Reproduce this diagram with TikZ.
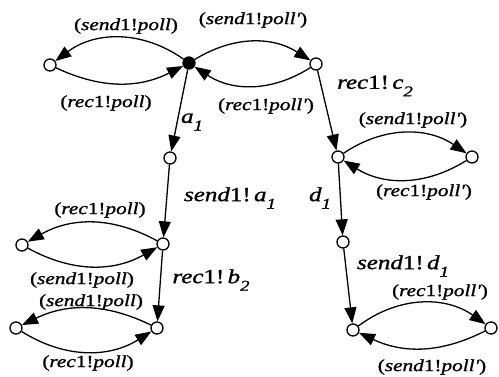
\documentclass[tikz,border=0pt]{standalone}
\usepackage{fontspec}
\usetikzlibrary{arrows.meta}
\setmainfont{Liberation Serif}
\newfontfamily\lblfont[FakeStretch=1.25,FakeBold=1.3]{Liberation Serif}
% polling label: (verb1!msg)
\newcommand{\pl}[2]{({\itshape #1}1!{\itshape #2})}
% subscript index
\newcommand{\idx}[1]{\raisebox{-0.38em}{\fontsize{15}{15}\selectfont\itshape #1}}
% action label with subscript
\newcommand{\ac}[3]{{\itshape #1}1!\,{\itshape #2}\idx{#3}}
\begin{document}
\begin{tikzpicture}[x=1pt,y=-1pt,
  state/.style={circle,draw,line width=1.3pt,fill=white,inner sep=0pt,minimum size=12pt},
  init/.style={state,fill=black},
  tr/.style={line width=1.3pt,-{Triangle[length=16pt,width=12pt]}},
  small/.style={font=\lblfont\fontsize{17}{17}\selectfont,inner sep=0pt},
  big/.style={font=\lblfont\fontsize{20}{20}\selectfont,inner sep=0pt}]
\useasboundingbox (0,0) rectangle (499,377);

% states
\node[init]  (t)   at (189,63) {};
\node[state] (l0)  at (50,65) {};
\node[state] (r0)  at (316,64) {};
\node[state] (a1)  at (170,158) {};
\node[state] (b)   at (163,244) {};
\node[state] (bl)  at (22,245) {};
\node[state] (c)   at (157,328) {};
\node[state] (cl)  at (16,328) {};
\node[state] (r1)  at (338,157) {};
\node[state] (r1r) at (472,157) {};
\node[state] (r2)  at (343,242) {};
\node[state] (r3)  at (353,330) {};
\node[state] (r3r) at (491,328) {};

% transitions
\draw[tr] (t) to[bend right=36] (l0);
\draw[tr] (l0) to[bend right=26] (t);
\draw[tr] (t) to[bend left=32] (r0);
\draw[tr] (r0) to[bend left=33] (t);
\draw[tr] (t) -- (a1);
\draw[tr] (a1) -- (b);
\draw[tr] (b) -- (c);
\draw[tr] (b) to[bend right=29] (bl);
\draw[tr] (bl) to[bend right=29] (b);
\draw[tr] (c) to[bend right=26] (cl);
\draw[tr] (cl) to[bend right=32] (c);
\draw[tr] (r0) -- (r1);
\draw[tr] (r1) to[bend left=34] (r1r);
\draw[tr] (r1r) to[bend left=32] (r1);
\draw[tr] (r1) -- (r2);
\draw[tr] (r2) -- (r3);
\draw[tr] (r3) to[bend left=36] (r3r);
\draw[tr] (r3r) to[bend left=26] (r3);

% labels
\node[small] (tlu) at (126,26)  {\pl{send}{poll}};
\node[small] (tll) at (106,103) {\pl{rec}{poll}};
\node[small] (tru) at (253,20)  {\pl{send}{poll'}};
\node[small] (trl) at (266,106) {\pl{rec}{poll'}};
\node[big]   (la1) at (192,122) {{\itshape a}\idx{1}};
\node[big]   (lsa) at (230,198) {\ac{send}{a}{1}};
\node[big]   (lrb) at (211,280) {\ac{rec}{b}{2}};
\node[big]   (lrc) at (375,86)  {\ac{rec}{c}{2}};
\node[big]   (ld1) at (320,198) {{\itshape d}\idx{1}};
\node[big]   (lsd) at (403,266) {\ac{send}{d}{1}};
\node[small] (r1u) at (413,120) {\pl{send}{poll'}};
\node[small] (r1l) at (424,192) {\pl{rec}{poll'}};
\node[small] (r3u) at (440,292) {\pl{rec}{poll'}};
\node[small] (r3l) at (432,367) {\pl{send}{poll'}};
\node[small] (blu) at (100,210) {\pl{rec}{poll}};
\node[small] (bll) at (82,280)  {\pl{send}{poll}};
\node[small] (clu) at (91,302)  {\pl{send}{poll}};
\node[small] (cll) at (88,363)  {\pl{rec}{poll}};
\end{tikzpicture}
\end{document}
